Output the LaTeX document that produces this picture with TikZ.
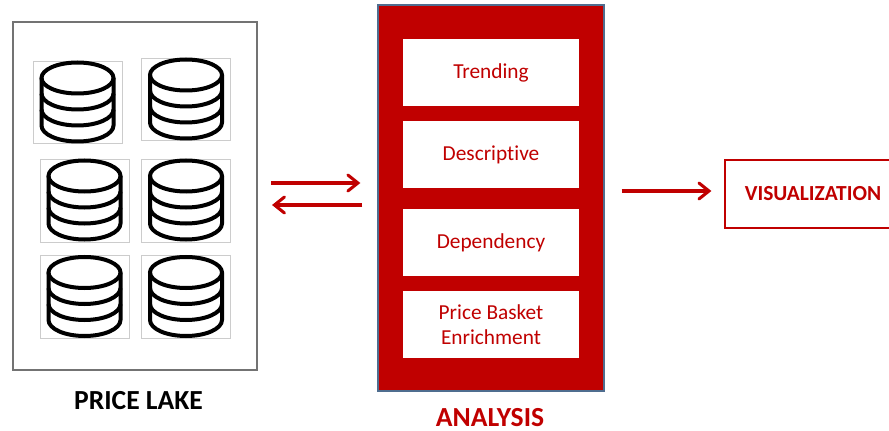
\documentclass[tikz,border=0pt]{standalone}
\usepackage{fontspec}
\setmainfont[Ligatures=NoCommon]{Carlito}
\usetikzlibrary{arrows.meta}
\definecolor{pricered}{HTML}{C00000}
\definecolor{slateedge}{HTML}{4F6D8F}
\tikzset{
  lakebox/.style={draw=black!55,line width=1.5pt,fill=white,minimum width=183pt,minimum height=261pt,inner sep=0pt},
  analysisbox/.style={draw=slateedge,line width=1pt,fill=pricered,minimum width=169.5pt,minimum height=289.5pt,inner sep=0pt},
  methodbox/.style={fill=white,text=pricered,minimum width=132pt,minimum height=50.25pt,inner sep=0pt,align=center,execute at begin node={\vspace*{3pt}},font=\fontsize{16}{18.5}\selectfont},
  vizbox/.style={draw=pricered,line width=0.9pt,fill=white,text=pricered,minimum width=132pt,minimum height=51pt,inner sep=0pt,align=center,execute at begin node={\vspace*{3pt}},font=\fontsize{16.1}{19}\selectfont\bfseries},
  dbbox/.style={draw=black!20,line width=0.5pt,fill=white,minimum width=66.5pt,minimum height=62pt,inner sep=0pt},
  caption/.style={inner sep=0pt,font=\fontsize{20.7}{24}\selectfont\bfseries},
  flowline/.style={draw=pricered,line width=2.3pt,-{Straight Barb[length=7.5pt,width=12pt,line cap=round]}},
  dbline/.style={draw=black,line width=3pt},
  pics/dbicon/.style={code={
    \draw[dbline] (0,-24.5) ellipse (36 and 15.5);
    \draw[dbline] (-36,-24.5) -- (-36,23) arc (180:0:36 and 16) -- (36,-24.5);
    \draw[dbline] (-36,-9) arc (180:0:36 and 16);
    \draw[dbline] (-36,7) arc (180:0:36 and 16);
  }}
}
\begin{document}
\begin{tikzpicture}[x=0.75pt,y=-0.75pt]
\useasboundingbox (0,0) rectangle (889,431);
\node[lakebox] (lake) at (135,196) {};
\foreach \name/\x/\y in {dbA/77.5/102.5,dbB/186/99.5,dbC/84.5/200.5,dbD/186/200.5,dbE/84.5/297,dbF/186/297}{
  \node[dbbox] (\name) at (\x,\y) {};
  \pic at (\name) {dbicon};
}
\node[caption,text=black] (lakelabel) at (138.5,400.5) {PRICE LAKE};
\node[analysisbox] (analysis) at (491,198) {};
\node[methodbox] (trending) at (491,72.5) {Trending};
\node[methodbox] (descriptive) at (491,154.5) {Descriptive};
\node[methodbox] (dependency) at (491,242.5) {Dependency};
\node[methodbox] (enrichment) at (491,324.5) {Price Basket\\Enrichment};
\node[caption,text=pricered] (analysislabel) at (490,417.5) {ANALYSIS};
\node[vizbox] (viz) at (813,194) {VISUALIZATION};
\draw[flowline] ([shift={(13,-13)}]lake.east) -- ([shift={(-17,-15)}]analysis.west);
\draw[flowline] ([shift={(-15,7)}]analysis.west) -- ([shift={(14,9)}]lake.east);
\draw[flowline] ([shift={(17,-7)}]analysis.east) -- ([shift={(-13,-3)}]viz.west);
\end{tikzpicture}
\end{document}
